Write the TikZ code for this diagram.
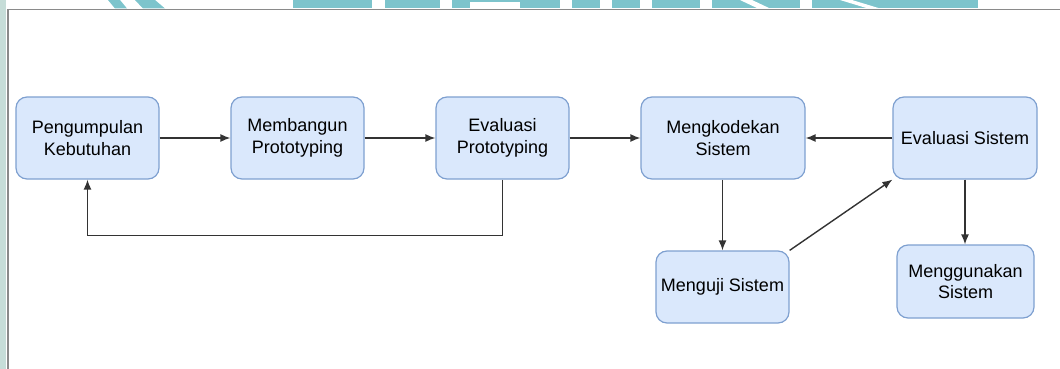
\documentclass[tikz,border=0pt]{standalone}
\usepackage{fontspec}
\setmainfont{Liberation Sans}
\usetikzlibrary{arrows.meta}
\definecolor{boxfill}{HTML}{DAE8FC}
\definecolor{boxline}{HTML}{7EA0D0}
\definecolor{wm}{HTML}{7DC4CC}
\definecolor{framegray}{HTML}{8A8A8A}
\definecolor{strip}{HTML}{C6DDD8}
\definecolor{arrowc}{HTML}{333333}
\tikzset{
  procbox/.style={draw=boxline, fill=boxfill, line width=1.2pt, rounded corners=11pt,
    inner sep=0pt, align=center, font=\fontsize{18}{21.5}\selectfont, text=black},
  conn/.style={draw=arrowc, line width=1.4pt, -{Latex[length=10pt,width=8pt]}}
}
\begin{document}
\begin{tikzpicture}[x=1pt,y=-1pt]
\useasboundingbox (0,0) rectangle (1060,369);
% screenshot frame and watermark
\fill[strip] (0,0) rectangle (6,369);
\fill[wm] (293,0) rectangle (978,8.5);
\fill[white] (372,0) rectangle (385,8.5);
\fill[white] (440,0) rectangle (452,8.5);
\fill[white] (470,2) rectangle (520,8.5);
\fill[white] (560,0) rectangle (572,8.5);
\fill[white] (600,0) rectangle (612,8.5);
\fill[white] (640,0) rectangle (652,8.5);
\fill[white] (700,0) rectangle (712,8.5);
\fill[white] (740,0) -- (752,0) -- (770,8.5) -- (758,8.5) -- cycle;
\fill[white] (800,0) rectangle (812,8.5);
\fill[white] (840,0) -- (852,0) -- (880,8.5) -- (868,8.5) -- cycle;
\fill[wm] (108,0) -- (120,0) -- (127,8.5) -- (115,8.5) -- cycle;
\fill[wm] (135,0) -- (155,0) -- (165,8.5) -- (143,8.5) -- cycle;
\draw[framegray, line width=1.6pt] (8,369) -- (8,9.5) -- (1060,9.5);
% boxes
\node[procbox, minimum width=143pt, minimum height=82pt] (kb) at (87.5,138) {Pengumpulan\\Kebutuhan};
\node[procbox, minimum width=133pt, minimum height=82pt] (mp) at (297.5,138) {Membangun\\Prototyping};
\node[procbox, minimum width=133pt, minimum height=82pt] (ep) at (502.5,138) {Evaluasi\\Prototyping};
\node[procbox, minimum width=164pt, minimum height=82pt] (ms) at (723,138) {Mengkodekan\\Sistem};
\node[procbox, minimum width=144pt, minimum height=82pt] (es) at (965,138) {Evaluasi Sistem};
\node[procbox, minimum width=133pt, minimum height=72pt] (uj) at (722.5,287) {Menguji Sistem};
\node[procbox, minimum width=137pt, minimum height=73pt] (mg) at (965.5,281.5) {Menggunakan\\Sistem};
% connectors
\draw[conn] (kb) -- (mp);
\draw[conn] (mp) -- (ep);
\draw[conn] (ep) -- (ms);
\draw[conn] (es) -- (ms);
\draw[conn] (ep.south) -- ++(0,56) -| (kb.south);
\draw[conn] (ms.south -| uj.north) -- (uj.north);
\draw[conn] (uj.north east) -- (es.south west);
\draw[conn] (es.south) -- (es.south |- mg.north);
\end{tikzpicture}
\end{document}
